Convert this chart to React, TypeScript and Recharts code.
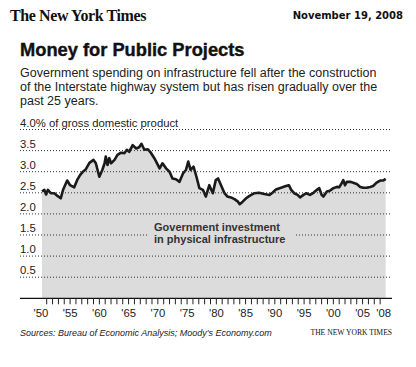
import React from "react";
import {
  Area,
  ComposedChart,
  ReferenceLine,
  XAxis,
  YAxis,
} from "recharts";

// public infrastructure spending, % of GDP
const years = [
  1950.2, 1950.6, 1950.9, 1951.2, 1951.7, 1952.3, 1952.9, 1953.4, 1953.8, 1954.5,
  1955.0, 1955.7, 1956.2, 1956.7, 1957.2, 1957.7, 1958.3, 1959.0, 1959.4, 1960.0,
  1960.5, 1960.9, 1961.1, 1961.4, 1961.7, 1962.0, 1962.6, 1963.1, 1963.7, 1964.3,
  1964.7, 1965.1, 1965.7, 1966.3, 1966.8, 1967.2, 1967.7, 1968.3, 1968.8, 1969.4,
  1970.0, 1970.3, 1970.8, 1971.4, 1972.0, 1972.5, 1973.1, 1973.7, 1974.3, 1974.8,
  1975.2, 1975.6, 1976.1, 1976.6, 1977.1, 1977.7, 1978.2, 1978.8, 1979.4, 1979.9,
  1980.3, 1980.8, 1981.4, 1981.9, 1982.5, 1983.1, 1983.7, 1984.0, 1984.5, 1985.1,
  1985.6, 1986.5, 1987.3, 1988.2, 1989.1, 1989.6, 1990.2, 1990.8, 1991.3, 1991.9,
  1992.4, 1992.8, 1993.3, 1993.9, 1994.3, 1994.9, 1995.4, 1996.0, 1996.6, 1997.2,
  1997.6, 1998.0, 1998.3, 1998.9, 1999.4, 2000.0, 2000.6, 2001.0, 2001.4, 2001.7,
  2002.0, 2002.3, 2002.9, 2003.4, 2004.0, 2004.6, 2005.1, 2005.7, 2006.3, 2006.8,
  2007.4, 2008.0, 2008.5, 2008.95,
];
const gdpShare = [
  2.53, 2.57, 2.46, 2.57, 2.49, 2.49, 2.42, 2.37, 2.57, 2.79,
  2.68, 2.63, 2.8, 2.92, 3.0, 3.06, 3.21, 3.28, 3.2, 2.88,
  3.04, 3.2, 3.36, 3.16, 3.32, 3.2, 3.28, 3.4, 3.45, 3.44,
  3.52, 3.47, 3.63, 3.55, 3.58, 3.66, 3.52, 3.53, 3.45, 3.32,
  3.16, 3.08, 3.2, 3.08, 3.0, 2.84, 2.82, 2.76, 2.96, 3.04,
  3.24, 3.04, 3.12, 2.88, 2.61, 2.57, 2.41, 2.68, 2.49, 2.8,
  2.84, 2.68, 2.49, 2.41, 2.39, 2.35, 2.29, 2.23, 2.29, 2.37,
  2.42, 2.49, 2.5, 2.47, 2.45, 2.5, 2.58, 2.61, 2.63, 2.66,
  2.68, 2.57, 2.49, 2.45, 2.39, 2.45, 2.49, 2.45, 2.5, 2.57,
  2.61, 2.45, 2.41, 2.53, 2.55, 2.61, 2.64, 2.63, 2.72, 2.8,
  2.68, 2.76, 2.76, 2.74, 2.71, 2.64, 2.62, 2.62, 2.64, 2.66,
  2.74, 2.79, 2.79, 2.83,
];

const gridValues = [0.5, 1, 1.5, 2, 2.5, 3, 3.5, 4];
const tickYears = Array.from({ length: 59 }, (_, i) => 1950 + i);
const labelYears = [1950, 1955, 1960, 1965, 1970, 1975, 1980, 1985, 1990, 1995, 2000, 2005, 2008];

const data = years.map((year, i) => ({ year, value: gdpShare[i] }));

const SANS = "'Liberation Sans', Arial, sans-serif";
const INK = "#222";
const FILL = "#dcdcdc";

const gridText = (v: number) => (v === 4 ? "4.0% of gross domestic product" : v.toFixed(1));

function XTick(props: any) {
  const yr = Number(props.payload?.value);
  const { x, y } = props;
  return (
    <g>
      {yr > 1950 && <line x1={x} x2={x} y1={y} y2={y + 6} stroke="#222" strokeWidth={1} />}
      {labelYears.includes(yr) && (
        <text
          x={x + (yr === 2008 ? 3.5 : 0)}
          y={y + 19}
          textAnchor="middle"
          fontSize={11.3}
          fontFamily={SANS}
          fill={INK}
        >
          {"'" + String(yr).slice(2)}
        </text>
      )}
    </g>
  );
}

export default function App() {
  return (
    <div
      style={{
        position: "absolute",
        left: 0,
        top: 0,
        width: 416,
        height: 367,
        background: "#fff",
        overflow: "hidden",
        fontFamily: SANS,
        color: INK,
      }}
    >
      <div
        style={{
          position: "absolute",
          left: 10,
          top: 6,
          lineHeight: "20px",
          fontSize: 16,
          fontWeight: 700,
          fontFamily: "'Liberation Serif', 'DejaVu Serif', serif",
          letterSpacing: -0.4,
          color: "#111",
        }}
      >
        The New York Times
      </div>
      <div
        style={{
          position: "absolute",
          right: 13,
          top: 8,
          lineHeight: "16px",
          fontSize: 10,
          fontWeight: 700,
          fontFamily: "'DejaVu Sans', Verdana, sans-serif",
          color: "#111",
        }}
      >
        November 19, 2008
      </div>
      <div
        style={{
          position: "absolute",
          left: 20,
          top: 39,
          lineHeight: "22px",
          fontSize: 18.3,
          fontWeight: 700,
          color: "#111",
          WebkitTextStroke: "0.4px #111",
        }}
      >
        Money for Public Projects
      </div>
      <div
        style={{
          position: "absolute",
          left: 20,
          top: 65.5,
          lineHeight: "14px",
          fontSize: 12.5,
          color: INK,
          whiteSpace: "nowrap",
        }}
      >
        Government spending on infrastructure fell after the construction
        <br />
        of the Interstate highway system but has risen gradually over the
        <br />
        past 25 years.
      </div>

      <div style={{ position: "absolute", left: 0, top: 0 }}>
        <ComposedChart
          width={416}
          height={367}
          data={data}
          margin={{ top: 129.5, right: 24, bottom: 38.7, left: 20 }}
        >
          <XAxis
            type="number"
            dataKey="year"
            domain={[1946.436, 2010.03]}
            ticks={tickYears}
            interval={0}
            height={30}
            tickSize={0}
            tickMargin={0}
            tickLine={false}
            axisLine={{ stroke: "#111", strokeWidth: 1.3 }}
            tick={<XTick />}
          />
          <YAxis type="number" domain={[0, 4]} ticks={gridValues} hide />
          <Area
            type="linear"
            dataKey="value"
            stroke="#1a1a1a"
            strokeWidth={2.6}
            strokeLinejoin="round"
            fill={FILL}
            fillOpacity={1}
            isAnimationActive={false}
          />
          {gridValues.map((v) => (
            <ReferenceLine
              key={v}
              y={v}
              stroke="#333"
              strokeWidth={1}
              strokeDasharray="1 2"
              label={{
                content: (p: any) => (
                  <text
                    x={p.viewBox.x}
                    y={p.viewBox.y - 3}
                    fontSize={11.3}
                    fontFamily={SANS}
                    fill={INK}
                  >
                    {gridText(v)}
                  </text>
                ),
              }}
            />
          ))}
        </ComposedChart>
      </div>

      <div
        style={{
          position: "absolute",
          left: 148,
          top: 220,
          width: 146,
          height: 26,
          background: FILL,
        }}
      >
        <div
          style={{
            position: "absolute",
            left: 6,
            top: 1,
            lineHeight: "12px",
            fontSize: 11,
            fontWeight: 700,
            color: "#333",
            whiteSpace: "nowrap",
          }}
        >
          Government investment
          <br />
          in physical infrastructure
        </div>
      </div>

      <div
        style={{
          position: "absolute",
          left: 20,
          top: 327,
          lineHeight: "12px",
          fontSize: 9,
          fontStyle: "italic",
          color: INK,
          whiteSpace: "nowrap",
        }}
      >
        Sources: Bureau of Economic Analysis; Moody's Economy.com
      </div>
      <div
        style={{
          position: "absolute",
          right: 24,
          top: 328,
          lineHeight: "10px",
          fontSize: 7.6,
          fontFamily: "'Liberation Serif', serif",
          color: "#111",
          whiteSpace: "nowrap",
        }}
      >
        THE NEW YORK TIMES
      </div>
    </div>
  );
}
